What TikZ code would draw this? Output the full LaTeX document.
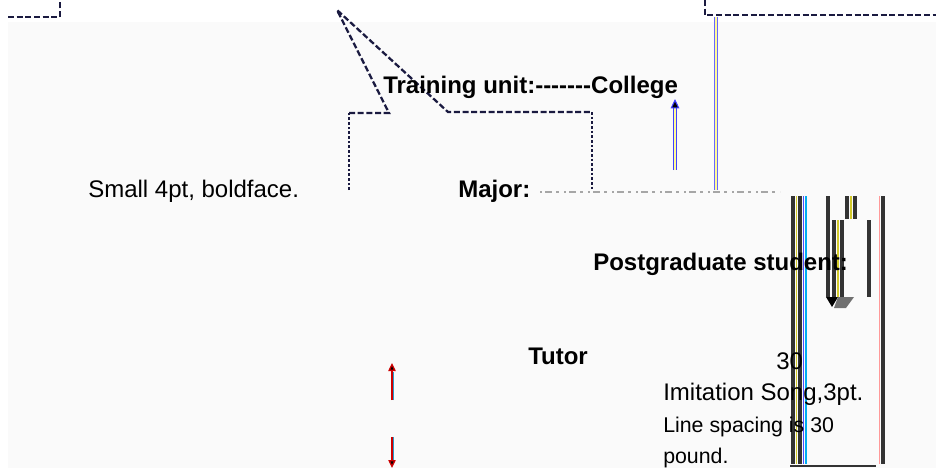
\documentclass[tikz,border=0pt]{standalone}
\usepackage{fontspec}
\setmainfont{Liberation Sans}[Ligatures=TeXOff]
\usetikzlibrary{arrows.meta}
\definecolor{ink}{HTML}{1A1A40}
\definecolor{barc}{HTML}{333333}
\definecolor{bgc}{HTML}{FAFAFA}
\begin{document}
\begin{tikzpicture}[x=0.75pt,y=-0.75pt,
  lbl/.style={anchor=base west, inner sep=0pt, font=\fontsize{18}{20}\selectfont},
  blbl/.style={anchor=base west, inner sep=0pt, font=\fontsize{18}{20}\selectfont\bfseries},
  slbl/.style={anchor=base west, inner sep=0pt, font=\fontsize{16}{18}\selectfont},
  dashln/.style={draw=ink, line width=1.7pt, dash pattern=on 4.5pt off 2pt},
  thindash/.style={draw=ink, line width=1.3pt, dash pattern=on 2pt off 1.5pt},
  bar/.style={draw=barc, line width=2.8pt},
  ybar/.style={draw=yellow!80!black, line width=1pt},
  bbar/.style={draw=blue!70, line width=1pt},
  cbar/.style={draw=cyan, line width=0.8pt},
  rbar/.style={draw=red!40, line width=0.6pt},
  redarr/.style={draw=red!80!black, line width=1pt, -{Triangle[length=6pt,width=5.5pt,fill=black]}},
  cyanln/.style={draw=cyan!80!black, line width=0.9pt},
  bluearr/.style={draw=blue!75, double=yellow!40, double distance=1.2pt, line width=0.8pt, -{Triangle[length=7pt,width=6.5pt,fill=black]}}
]
\useasboundingbox (0,0) rectangle (936,468);
\fill[white] (0,0) rectangle (936,468);
\fill[bgc] (8,22) rectangle (936,468);

% top-left corner
\coordinate (tl1) at (8,17);
\coordinate (tl2) at (60,17);
\coordinate (tl3) at (60,0);
\draw[dashln] (tl1) -- (tl2) -- (tl3);

% top-right corner
\coordinate (tr1) at (705,0);
\coordinate (tr2) at (705,15);
\coordinate (tr3) at (936,15);
\draw[dashln] (tr1) -- (tr2) -- (tr3);
\coordinate (dv1) at (716,17);
\coordinate (dv2) at (716,190);
\draw[draw=blue!60, double=yellow!40, double distance=1.2pt, line width=0.6pt] (dv1) -- (dv2);

% callout shape
\coordinate (c1) at (349,190);
\coordinate (c2) at (349,113);
\coordinate (c3) at (389,113);
\coordinate (c4) at (337,10);
\coordinate (c5) at (448,112);
\coordinate (c6) at (592,112);
\coordinate (c7) at (592,190);
\draw[thindash] (c1) -- (c2);
\draw[dashln] (c2) -- (c3) -- (c4) -- (c5) -- (c6);
\draw[thindash] (c6) -- (c7);

% faint broken baseline
\coordinate (fb1) at (540,192);
\coordinate (fb2) at (780,192);
\draw[draw=gray!70, line width=1.4pt, dash pattern=on 1.5pt off 2.5pt on 5pt off 3pt on 2pt off 4pt] (fb1) -- (fb2);

% blue up arrow
\coordinate (ba1) at (675,170);
\coordinate (ba2) at (675,99);
\draw[bluearr] (ba1) -- (ba2);

% red arrows
\coordinate (ru1) at (392,400);
\coordinate (ru2) at (392,363);
\coordinate (ruc1) at (393.3,400);
\coordinate (ruc2) at (393.3,372);
\draw[cyanln] (ruc1) -- (ruc2);
\draw[redarr] (ru1) -- (ru2);
\coordinate (rd1) at (392,437);
\coordinate (rd2) at (392,468);
\coordinate (rdc1) at (393.3,437);
\coordinate (rdc2) at (393.3,460);
\draw[cyanln] (rdc1) -- (rdc2);
\draw[redarr] (rd1) -- (rd2);

% right bars
\coordinate (b1a) at (793,196); \coordinate (b1b) at (793,464);
\coordinate (b2a) at (800,196); \coordinate (b2b) at (800,464);
\coordinate (y1a) at (796.5,196); \coordinate (y1b) at (796.5,464);
\coordinate (bb1a) at (803.5,196); \coordinate (bb1b) at (803.5,464);
\coordinate (cc1a) at (806,196); \coordinate (cc1b) at (806,464);
\draw[bar] (b1a) -- (b1b);
\draw[bar] (b2a) -- (b2b);
\draw[ybar] (y1a) -- (y1b);
\draw[bbar] (bb1a) -- (bb1b);
\draw[cbar] (cc1a) -- (cc1b);

\coordinate (b3a) at (828,196); \coordinate (b3b) at (828,297);
\draw[bar] (b3a) -- (b3b);
\coordinate (b4a) at (847,196); \coordinate (b4b) at (847,219);
\coordinate (b5a) at (855,196); \coordinate (b5b) at (855,219);
\draw[bar] (b4a) -- (b4b);
\draw[bar] (b5a) -- (b5b);
\coordinate (y4a) at (851,196); \coordinate (y4b) at (851,219);
\draw[ybar] (y4a) -- (y4b);

\coordinate (b6a) at (834,220); \coordinate (b6b) at (834,297);
\coordinate (b7a) at (842,220); \coordinate (b7b) at (842,297);
\coordinate (y6a) at (838,220); \coordinate (y6b) at (838,297);
\draw[bar] (b6a) -- (b6b);
\draw[bar] (b7a) -- (b7b);
\draw[ybar] (y6a) -- (y6b);
\coordinate (b8a) at (869,220); \coordinate (b8b) at (869,297);
\draw[bar] (b8a) -- (b8b);
\coordinate (ah1) at (826,297); \coordinate (ah2) at (838,297); \coordinate (ah3) at (832,307);
\fill[black] (ah1) -- (ah2) -- (ah3) -- cycle;
\coordinate (ah4) at (838,297); \coordinate (ah5) at (854,297); \coordinate (ah6) at (846,308); \coordinate (ah7) at (834,308);
\fill[barc!70] (ah4) -- (ah5) -- (ah6) -- (ah7) -- cycle;

\coordinate (r9a) at (879.5,196); \coordinate (r9b) at (879.5,464);
\draw[rbar] (r9a) -- (r9b);
\coordinate (b9a) at (883,196); \coordinate (b9b) at (883,464);
\draw[bar] (b9a) -- (b9b);

\coordinate (hl1) at (790,466); \coordinate (hl2) at (876,466);
\draw[draw=barc, line width=1pt] (hl1) -- (hl2);

% texts (on top)
\node[blbl] (train) at (383,93) {Training unit:-------College};
\node[lbl] (small) at (88,197) {Small 4pt, boldface.};
\node[blbl] (major) at (458,197) {Major:};
\node[blbl] (pg) at (593,270) {Postgraduate student:};
\node[blbl] (tutor) at (528,364) {Tutor};
\node[lbl] (thirty) at (776,369) {30};
\node[lbl] (imit) at (663,400) {Imitation Song,3pt.};
\node[slbl] (lsp) at (663,432) {Line spacing is 30};
\node[slbl] (pound) at (663,463) {pound.};
\end{tikzpicture}
\end{document}
